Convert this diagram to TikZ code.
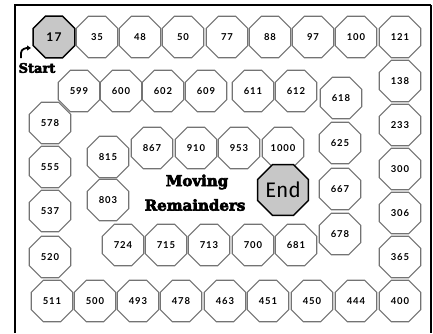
\documentclass[tikz,border=0pt]{standalone}
\usepackage{fontspec}
\usetikzlibrary{shapes.geometric,arrows.meta}
\newfontfamily\numfont[LetterSpace=10]{Lato Bold}
\newfontfamily\heavyfont[FakeBold=4]{DejaVu Serif Bold}
\newfontfamily\endfont{Fira Sans}
\tikzset{
  oct/.style={regular polygon, regular polygon sides=8, minimum size=45pt,
    inner sep=0pt, draw=black!55, line width=1.1pt, fill=white,
    font=\numfont\fontsize{9.5}{10}\selectfont},
  octspecial/.style={oct, draw=black, line width=1.5pt, fill=black!22},
  heavytext/.style={inner sep=0pt},
  frame/.style={line width=1.8pt, black}
}
\begin{document}
\begin{tikzpicture}[x=1pt,y=-1pt]
\useasboundingbox (0,0) rectangle (433,333);
% frame
\coordinate (fbl) at (15,333);
\coordinate (ftl) at (15,5);
\coordinate (ftr) at (431,5);
\coordinate (fbr) at (431,333);
\draw[frame] (fbl) -- (ftl) -- (ftr);
\draw[line width=1.2pt] (ftr) -- (fbr);
% top row
\node[octspecial, font=\numfont\fontsize{12}{13}\selectfont] (n17) at (54,37) {17};
\node[oct] (n35) at (97,37) {35};
\node[oct] (n48) at (140,37) {48};
\node[oct] (n50) at (183,37) {50};
\node[oct] (n77) at (227,37) {77};
\node[oct] (n88) at (270,37) {88};
\node[oct] (n97) at (313,37) {97};
\node[oct] (n100) at (356,37) {100};
\node[oct] (n121) at (400,37) {121};
% right column
\node[oct] (n138) at (400,81) {138};
\node[oct] (n233) at (400,125) {233};
\node[oct] (n300) at (400,169) {300};
\node[oct] (n306) at (400,213) {306};
\node[oct] (n365) at (400,257) {365};
\node[oct] (n400) at (400,301) {400};
% bottom row
\node[oct] (n444) at (356,301) {444};
\node[oct] (n450) at (312,301) {450};
\node[oct] (n451) at (268,301) {451};
\node[oct] (n463) at (225,301) {463};
\node[oct] (n478) at (181,301) {478};
\node[oct] (n493) at (138,301) {493};
\node[oct] (n500) at (95,301) {500};
\node[oct] (n511) at (52,301) {511};
% left column
\node[oct] (n520) at (50,257) {520};
\node[oct] (n537) at (50,211) {537};
\node[oct] (n555) at (50,167) {555};
\node[oct] (n578) at (50,123) {578};
% second row
\node[oct] (n599) at (79,91) {599};
\node[oct] (n600) at (121,91) {600};
\node[oct] (n602) at (163,91) {602};
\node[oct] (n609) at (206,91) {609};
\node[oct] (n611) at (253,91) {611};
\node[oct] (n612) at (296,91) {612};
\node[oct] (n618) at (341,98) {618};
% inner right column
\node[oct] (n625) at (340,143) {625};
\node[oct] (n667) at (340,189) {667};
\node[oct] (n678) at (340,234) {678};
% inner bottom row
\node[oct] (n681) at (296,245) {681};
\node[oct] (n700) at (253,245) {700};
\node[oct] (n713) at (209,245) {713};
\node[oct] (n715) at (166,245) {715};
\node[oct] (n724) at (123,245) {724};
% inner left
\node[oct] (n803) at (108,200) {803};
\node[oct] (n815) at (108,157) {815};
% inner top row
\node[oct] (n867) at (152,148) {867};
\node[oct] (n910) at (196,148) {910};
\node[oct] (n953) at (239,148) {953};
\node[oct] (n1000) at (283,148) {1000};
% end
\node[octspecial, font=\endfont\fontsize{21}{22}\selectfont] (nend) at (283,190) {End};
% title
\node[heavytext, font=\heavyfont\fontsize{15}{16}\selectfont] (title1) at (197,182) {Moving};
\node[heavytext, font=\heavyfont\fontsize{15}{16}\selectfont] (title2) at (195,205) {Remainders};
% start
\node[heavytext, font=\heavyfont\fontsize{13}{14}\selectfont] (start) at (37,68) {Start};
\coordinate (arrA) at (21,58);
\coordinate (arrB) at (31,48);
\draw[line width=1.8pt, -{Triangle[length=4pt,width=5pt]}] (arrA) -- ++(0,-5) to[out=90,in=180] (arrB);
\end{tikzpicture}
\end{document}
